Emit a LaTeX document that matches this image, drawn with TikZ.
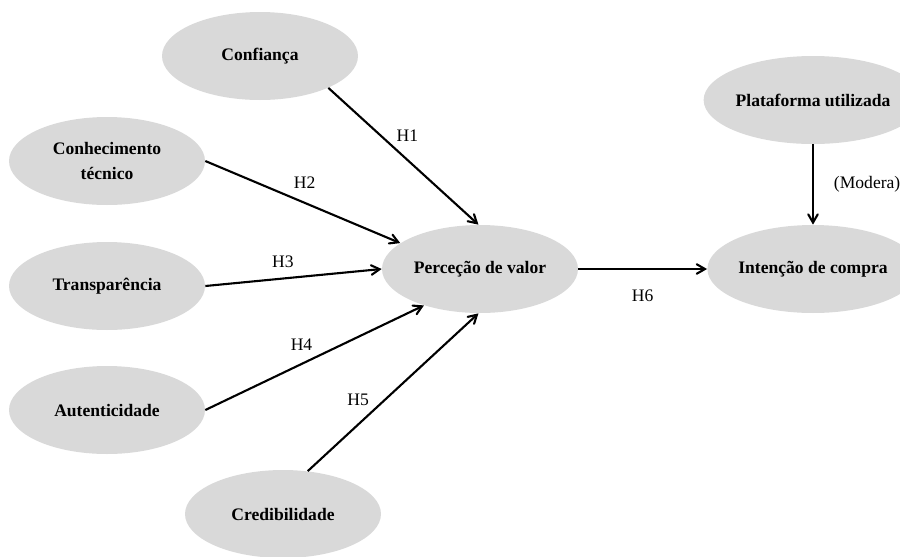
\documentclass[tikz,border=0pt]{standalone}
\usepackage{fontspec}
\setmainfont{Liberation Serif}
\usetikzlibrary{arrows,positioning,shapes.geometric}
\definecolor{cinza}{RGB}{217,217,217}
\tikzset{
  construto/.style={ellipse, fill=cinza, minimum width=3.92cm, minimum height=1.76cm, inner sep=0pt, align=center, font=\bfseries},
  seta/.style={->, >=angle 60, line width=1.2pt},
}

\begin{document}
\begin{tikzpicture}[x=0.02cm, y=-0.02cm]
\useasboundingbox (0,0) rectangle (900,556);
\clip (0,0) rectangle (900,556);
\node[construto] (conf) at (260,56) {Confiança};
\node[construto] (conh) at (107,161) {Conhecimento\\[2pt]técnico};
\node[construto] (transp) at (107,286) {Transparência};
\node[construto] (autent) at (107,410) {Autenticidade};
\node[construto] (cred) at (283,514) {Credibilidade};
\node[construto] (perc) at (480,269) {Perceção de valor};
\node[construto] (inten) at (813,269) {Intenção de compra};
\node[construto] (plat) at (813,100) {Plataforma utilizada};
\draw[seta] (conf.-25) -- (perc.92) node[pos=0.35,right=5pt] {H1};
\draw[seta] (conh.east) -- (perc.162) node[pos=0.51,above=4pt] {H2};
\draw[seta] (transp.east) -- (perc.west) node[pos=0.44,above=2pt] {H3};
\draw[seta] (autent.east) -- (perc.213) node[pos=0.44,above=3.5pt] {H4};
\draw[seta] (cred.60) -- (perc.268) node[pos=0.45,left=5pt] {H5};
\draw[seta] (perc.east) -- (inten.west) node[midway,below=8pt] {H6};
\draw[seta] (plat.south) -- (inten.north) node[midway,right=8pt] {(Modera)};
\end{tikzpicture}
\end{document}
